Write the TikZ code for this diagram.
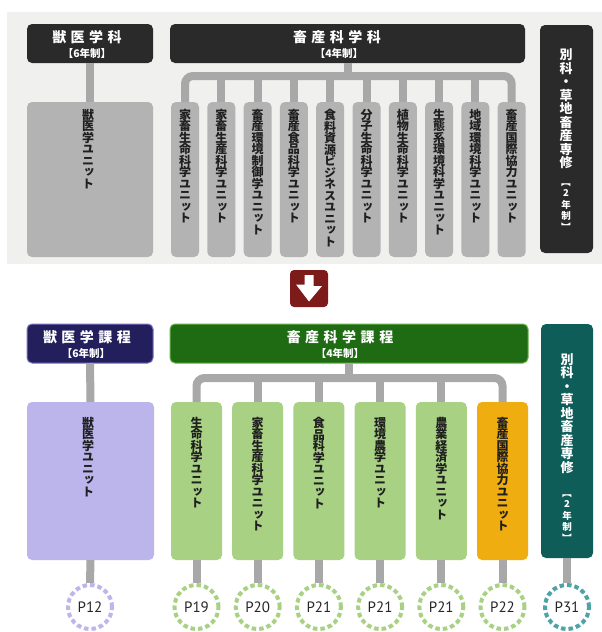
\documentclass[tikz,border=0pt]{standalone}
\usepackage{fontspec}
\usepackage{graphicx}
\newfontfamily\jp{Noto Sans CJK JP}
\newfontfamily\jpv{Noto Sans CJK JP}[RawFeature=+vert]
\newfontfamily\pfont{PT Sans}
\definecolor{bgtop}{HTML}{F0F0EE}
\definecolor{darkhdr}{HTML}{2A2A2A}
\definecolor{unitgray}{HTML}{B3B3B3}
\definecolor{conngray}{HTML}{A8A8A8}
\definecolor{navy}{HTML}{231F5C}
\definecolor{navyedge}{HTML}{7C73C4}
\definecolor{greenhdr}{HTML}{1F6B13}
\definecolor{greenedge}{HTML}{6AB04C}
\definecolor{teal}{HTML}{0F5D58}
\definecolor{lav}{HTML}{BCB5EC}
\definecolor{lgreen}{HTML}{A8D184}
\definecolor{orng}{HTML}{F0AD0F}
\definecolor{arrowred}{HTML}{7D1B1B}
\definecolor{circlav}{HTML}{BDB5EC}
\definecolor{circgreen}{HTML}{A9D184}
\definecolor{circteal}{HTML}{4FA3A6}
\makeatletter
\newcommand\vt[1]{\edef\vt@do{\noexpand\@tfor\noexpand\vt@c:=#1\noexpand\do}%
  \vbox{\lineskiplimit=-\maxdimen\vt@do{\hbox to 1.2em{\hss\vt@c\hss}}}}
\newcommand\ls[2][4.5pt]{\edef\ls@do{\noexpand\@tfor\noexpand\ls@c:=#2\noexpand\do}\ls@do{\ls@c\kern#1}\unkern}
\makeatother
\protected\def\rbo{{\jp\bfseries\rotatebox[origin=c]{-90}{【}}}
\protected\def\rbc{{\jp\bfseries\rotatebox[origin=c]{-90}{】}}}
\tikzset{
  box/.style={rectangle, rounded corners=5pt, inner sep=0pt, outer sep=0pt},
  conn/.style={draw=conngray, line width=8pt},
  utext/.style={inner sep=0pt, anchor=north, text=black!88, font=\jpv\bfseries\fontsize{12}{11.5}\selectfont},
  htext/.style={inner sep=0pt, text=white, font=\jp\bfseries\fontsize{14}{14}\selectfont},
  ytext/.style={inner sep=0pt, text=white, font=\jp\bfseries\fontsize{10.5}{11}\selectfont},
  rtext/.style={inner sep=0pt, anchor=north, text=white, font=\jpv\bfseries\fontsize{13}{13.5}\selectfont},
  rytext/.style={inner sep=0pt, anchor=north, text=white, font=\jpv\bfseries\fontsize{9.5}{11.3}\selectfont},
  pcirc/.style={circle, draw=#1, line width=4pt, dash pattern=on 4.5pt off 3pt, fill=white,
    minimum size=44pt, inner sep=0pt, font=\pfont\fontsize{15}{15}\selectfont, text=black!85},
}
\begin{document}
\begin{tikzpicture}[x=1pt,y=-1pt]
\useasboundingbox (0,0) rectangle (602,632);
\fill[white] (0,0) rectangle (602,632);
\fill[bgtop] (7,12) rectangle (602,264);

% ---------- top part ----------
\node[box, fill=darkhdr, minimum width=126pt, minimum height=39pt] (vh) at (90,43.5) {};
\node[htext] (vht1) at (87,37.5) {\ls{獣医学科}};
\node[ytext] (vht2) at (87,53) {【6年制】};
\node[box, fill=darkhdr, minimum width=355pt, minimum height=39pt] (ah) at (347.5,43.5) {};
\node[htext] (aht1) at (337,37.5) {\ls{畜産科学科}};
\node[ytext] (aht2) at (339,53) {【4年制】};
\node[box, fill=darkhdr, minimum width=53pt, minimum height=228pt] (rb) at (566.5,139) {};
\node[rtext] (rbt1) at (566,48.5) {\vt{別科・草地畜産専修}};
\node[rytext] (rbt2) at (566,177) {\vt{{\rbo}2年制{\rbc}}};

\node[box, fill=unitgray, minimum width=126pt, minimum height=155pt] (vu) at (90,179.5) {};
\node[utext] (vut) at (88,109) {\vt{獣医学ユニット}};

\foreach \i/\txt in {1/家畜生命科学ユニット,2/家畜生産科学ユニット,3/畜産環境制御学ユニット,
  4/畜産食品科学ユニット,5/食料資源ビジネスユニット,6/分子生命科学ユニット,7/植物生命科学ユニット,
  8/生態系環境科学ユニット,9/地域環境科学ユニット,10/畜産国際協力ユニット}{
  \node[box, fill=unitgray, minimum width=28pt, minimum height=155pt] (t\i) at ({185+36.3*(\i-1)},179.5) {};
  \node[utext] (tt\i) at ([yshift=-7pt]t\i.north) {\vt{\txt}};
}

\coordinate (tbar) at (347.5,76);
\draw[conn] (vh.south) -- (vu.north);
\draw[conn] (ah.south) -- (tbar);
\draw[conn, rounded corners=8pt] (t1.north) |- (tbar) -| (t10.north);
\foreach \i in {2,...,9}{\draw[conn] (t\i.north) -- (t\i.north |- tbar);}

% ---------- arrow ----------
\node[box, rounded corners=4pt, fill=arrowred, minimum width=38pt, minimum height=37pt] (ar) at (309,288.5) {};
\fill[white] ([shift={(-4.5pt,13.5pt)}]ar.center) -- ++(9,0) -- ++(0,11) -- ++(8.5,0)
  -- ([shift={(0pt,-13pt)}]ar.center) -- ++(-13,-17) -- ++(8.5,0) -- cycle;

% ---------- bottom part ----------
\node[box, fill=navy, draw=navyedge, line width=1pt, minimum width=126pt, minimum height=39pt] (vh2) at (90,343.5) {};
\node[htext] (vh2t1) at (87,337.5) {\ls{獣医学課程}};
\node[ytext] (vh2t2) at (86,353.5) {【6年制】};
\node[box, fill=greenhdr, draw=greenedge, line width=1pt, minimum width=358pt, minimum height=39pt] (ah2) at (349,343.5) {};
\node[htext] (ah2t1) at (340,337.5) {\ls{畜産科学課程}};
\node[ytext] (ah2t2) at (340,353.5) {【4年制】};
\node[box, fill=teal, minimum width=52pt, minimum height=234pt] (tb) at (567,441) {};
\node[rtext] (tbt1) at (567,353) {\vt{別科・草地畜産専修}};
\node[rytext] (tbt2) at (567,488) {\vt{{\rbo}2年制{\rbc}}};

\node[box, fill=lav, minimum width=127pt, minimum height=158pt] (vu2) at (90.5,481) {};
\node[utext] (vu2t) at (88,417) {\vt{獣医学ユニット}};

\foreach \i/\txt/\col in {1/生命科学ユニット/lgreen,2/家畜生産科学ユニット/lgreen,3/食品科学ユニット/lgreen,
  4/環境農学ユニット/lgreen,5/農業経済学ユニット/lgreen,6/畜産国際協力ユニット/orng}{
  \node[box, fill=\col, minimum width=51pt, minimum height=158pt] (b\i) at ({196.5+61.2*(\i-1)},481) {};
  \node[utext] (bt\i) at ([yshift=-15pt]b\i.north) {\vt{\txt}};
}

\coordinate (bbar) at (349,378);
\draw[conn] (vh2.south) -- (vu2.north);
\draw[conn] (ah2.south) -- (bbar);
\draw[conn, rounded corners=8pt] (b1.north) |- (bbar) -| (b6.north);
\foreach \i in {2,...,5}{\draw[conn] (b\i.north) -- (b\i.north |- bbar);}

% ---------- page circles ----------
\node[pcirc=circlav] (c0) at (90,607) {P12};
\foreach \i/\p in {1/P19,2/P20,3/P21,4/P21,5/P21,6/P22}{
  \node[pcirc=circgreen] (c\i) at ({196.5+61.2*(\i-1)},607) {\p};
}
\node[pcirc=circteal] (c7) at (567,607) {P31};

\draw[conn] (vu2.south) -- (c0.north);
\foreach \i in {1,...,6}{\draw[conn] (b\i.south) -- (c\i.north);}
\draw[conn] (tb.south) -- (c7.north);
\end{tikzpicture}
\end{document}
